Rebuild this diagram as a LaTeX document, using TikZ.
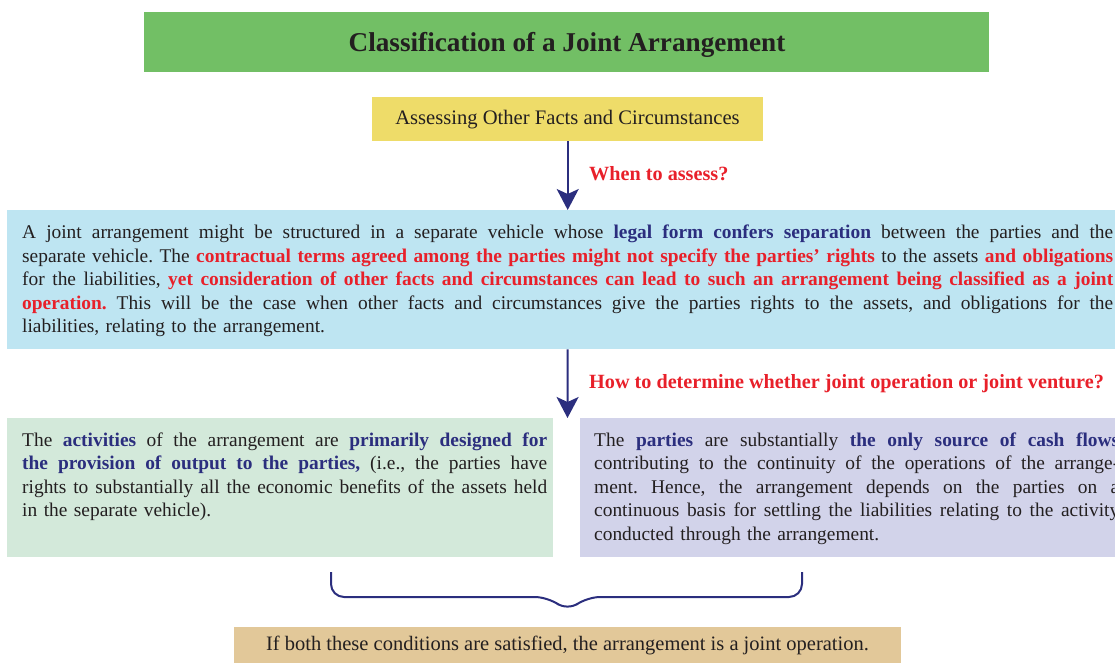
\documentclass[tikz,border=0pt]{standalone}
\usepackage{fontspec}
\setmainfont{Liberation Serif}
\usetikzlibrary{arrows.meta}
\definecolor{titlegreen}{HTML}{72BF65}
\definecolor{ayellow}{HTML}{EEDC69}
\definecolor{lblue}{HTML}{BEE5F2}
\definecolor{lgreen}{HTML}{D3E9DA}
\definecolor{lpurple}{HTML}{D2D3EA}
\definecolor{tanbox}{HTML}{E2C899}
\definecolor{navy}{HTML}{2B2E7E}
\definecolor{hred}{HTML}{E8202A}
\definecolor{ink}{HTML}{231F20}
\frenchspacing
\newcommand{\navyb}[1]{{\bfseries\color{navy}#1}}
\newcommand{\redb}[1]{{\bfseries\color{hred}#1}}
\newcommand{\jline}[1]{\makebox[\linewidth][s]{\frenchspacing\spaceskip=0pt\xspaceskip=0pt #1}}
\begin{document}
\begin{tikzpicture}[x=1pt,y=-1pt,
  box/.style={draw=none, inner sep=0pt, anchor=north west},
  para/.style={inner sep=0pt, anchor=base west, align=left, text=ink,
    font=\fontsize{19.4}{23.5}\selectfont\frenchspacing},
  flow/.style={draw=navy, line width=2pt, -{Stealth[length=21pt,width=22pt,inset=5pt]}},
  ask/.style={inner sep=0pt, anchor=base west, text=hred,
    font=\fontsize{20.2}{23}\selectfont\bfseries}]
\useasboundingbox (0,0) rectangle (1115,662);

% boxes
\node[box, fill=titlegreen, minimum width=845pt, minimum height=60pt] (title) at (144,12) {};
\node[box, fill=ayellow, minimum width=391pt, minimum height=44pt] (yellow) at (372,97) {};
\node[box, fill=lblue, minimum width=1115pt, minimum height=139pt] (blue) at (7,210) {};
\node[box, fill=lgreen, minimum width=546pt, minimum height=139pt] (left) at (7,418) {};
\node[box, fill=lpurple, minimum width=540pt, minimum height=139pt] (right) at (580,418) {};
\node[box, fill=tanbox, minimum width=667pt, minimum height=40pt] (result) at (234,627) {};

% texts
\node[inner sep=0pt, anchor=base, text=ink, font=\fontsize{27.2}{30}\selectfont\bfseries]
  (titletext) at (567,51.7) {Classification of a Joint Arrangement};
\node[inner sep=0pt, anchor=base, text=ink, font=\fontsize{20.6}{24}\selectfont]
  (yellowtext) at (567.5,124) {Assessing Other Facts and Circumstances};

\node[para, text width=1091pt] (bluetext) at (22,238.5) {%
\jline{A joint arrangement might be structured in a separate vehicle whose \navyb{legal form confers separation} between the parties and the}\\
\jline{separate vehicle. The \redb{contractual terms agreed among the parties might not specify the parties’ rights} to the assets \redb{and obligations}}\\
\jline{for the liabilities, \redb{yet consideration of other facts and circumstances can lead to such an arrangement being classified as a joint}}\\
\jline{\redb{operation.} This will be the case when other facts and circumstances give the parties rights to the assets, and obligations for the}\\
liabilities, relating to the arrangement.};

\node[para, text width=525pt] (lefttext) at (22,446.3) {%
\jline{The \navyb{activities} of the arrangement are \navyb{primarily designed for}}\\
\jline{\navyb{the provision of output to the parties,} (i.e., the parties have}\\
\jline{rights to substantially all the economic benefits of the assets held}\\
in the separate vehicle).};

\node[para, text width=525pt] (righttext) at (594,446.3) {%
\jline{The \navyb{parties} are substantially \navyb{the only source of cash flows}}\\
\jline{contributing to the continuity of the operations of the arrange-}\\
\jline{ment. Hence, the arrangement depends on the parties on a}\\
\jline{continuous basis for settling the liabilities relating to the activity}\\
conducted through the arrangement.};

\node[inner sep=0pt, anchor=base, text=ink, font=\fontsize{20.5}{22}\selectfont]
  (resulttext) at (567.5,650.7) {If both these conditions are satisfied, the arrangement is a joint operation.};

% connectors
\coordinate (gap) at (567.5,418);
\draw[flow] (yellow.south) -- (yellow.south |- blue.north);
\draw[flow] (yellow.south |- blue.south) -- (gap);
\node[ask] (q1) at (589,180) {When to assess?};
\node[ask] (q2) at (589,388) {How to determine whether joint operation or joint venture?};

% brace
\coordinate (bl) at (331,572);
\coordinate (br) at (802,572);
\coordinate (tip) at (567.5,611);
\draw[navy, line width=2pt, rounded corners=13pt]
  (bl) -- (bl |- 0,597) -- (548,597) -- (tip) -- (587,597) -- (br |- 0,597) -- (br);
\end{tikzpicture}
\end{document}
